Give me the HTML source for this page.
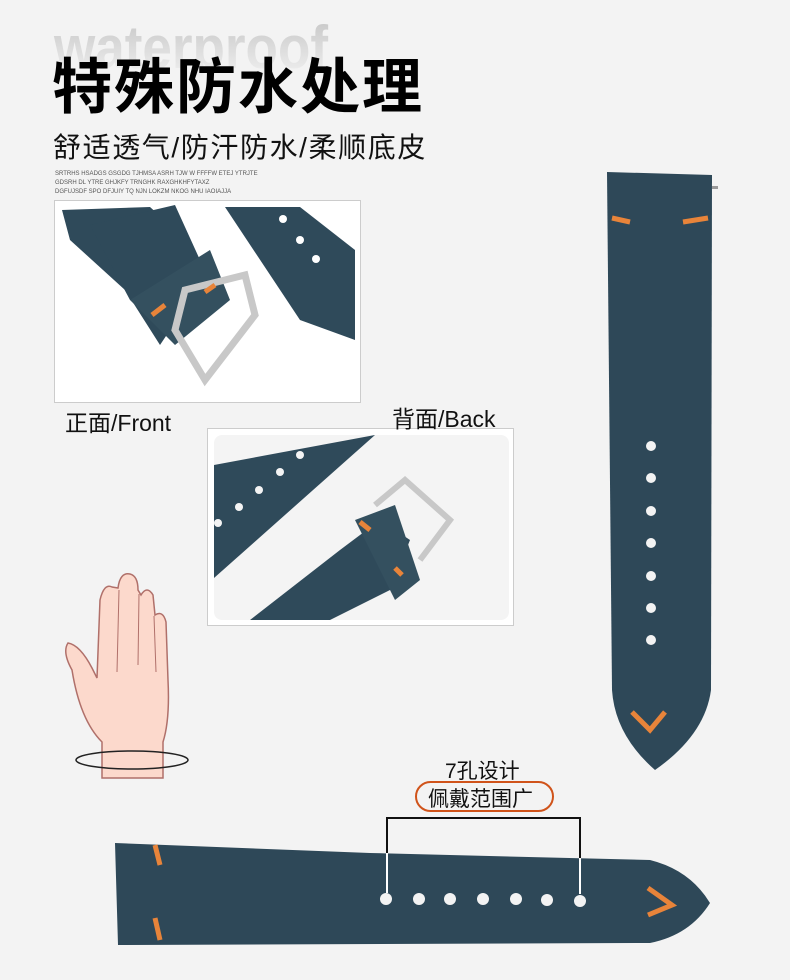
<!DOCTYPE html>
<html><head><meta charset="utf-8"><style>
body{margin:0;width:790px;height:980px;background:#f3f3f3;overflow:hidden;position:relative;font-family:"Liberation Sans","Noto Sans CJK SC",sans-serif}
.a{position:absolute;white-space:nowrap}
</style></head><body>
<svg width="790" height="980" style="position:absolute;left:0;top:0">
<defs>
<linearGradient id="wg" x1="0" y1="0" x2="0" y2="1"><stop offset="0" stop-color="#c4c4c4"/><stop offset="1" stop-color="#f3f3f3"/></linearGradient>
</defs>
<text x="54" y="68" font-family="Liberation Sans" font-weight="bold" font-size="60" fill="url(#wg)" textLength="274" lengthAdjust="spacingAndGlyphs">waterproof</text>
<!-- front photo -->
<rect x="54.5" y="200.5" width="306" height="202" fill="#fff" stroke="#ccc"/>
<path d="M62 210 L150 207 L178 232 L150 250 L135 300 L170 330 L160 345 L125 290 L70 240Z" fill="#2f4a5a"/>
<path d="M90 225 L175 205 L200 260 L155 300 L130 300Z" fill="#2f4a5a"/>
<path d="M130 300 L210 250 L230 300 L175 345Z" fill="#34505f"/>
<path d="M185 290 L245 275 L255 315 L205 380 L175 330Z" fill="none" stroke="#c8c8c8" stroke-width="7"/>
<path d="M225 207 L300 207 L355 250 L355 340 L300 320 Z" fill="#2f4a5a"/>
<circle cx="283" cy="219" r="4" fill="#fff"/><circle cx="300" cy="240" r="4" fill="#fff"/><circle cx="316" cy="259" r="4" fill="#fff"/>
<path d="M152 315 L165 305 M205 292 L215 285" stroke="#e8843a" stroke-width="5"/>
<!-- back photo -->
<rect x="207.5" y="428.5" width="306" height="197" fill="#fff" stroke="#ccc"/>
<rect x="214" y="435" width="295" height="185" rx="8" fill="#f4f4f4"/>
<path d="M214 465 L375 435 L214 578Z" fill="#2f4a5a"/>
<path d="M250 620 L340 550 L380 520 L410 540 L390 590 L330 620Z" fill="#2f4a5a"/>
<path d="M355 520 L395 505 L420 580 L395 600Z" fill="#34505f"/>
<path d="M375 505 L405 480 L450 520 L420 560" fill="none" stroke="#c8c8c8" stroke-width="6"/>
<g fill="#f4f4f4"><circle cx="218" cy="523" r="4"/><circle cx="239" cy="507" r="4"/><circle cx="259" cy="490" r="4"/><circle cx="280" cy="472" r="4"/><circle cx="300" cy="455" r="4"/><circle cx="320" cy="440" r="4"/></g>
<path d="M360 522 L370 530 M395 568 L402 575" stroke="#e8843a" stroke-width="5"/>
<!-- vertical strap -->
<path d="M607 172 L712 175 L711 690 Q705 735 655 770 Q615 735 612 690 Z" fill="#2e4858"/>
<path d="M612 218 L630 222 M683 222 L708 218 M632 712 L650 730 L665 712" stroke="#e8843a" stroke-width="5" fill="none"/>
<g fill="#f3f3f3"><circle cx="651" cy="446" r="5"/><circle cx="651" cy="478" r="5"/><circle cx="651" cy="511" r="5"/><circle cx="651" cy="543" r="5"/><circle cx="651" cy="576" r="5"/><circle cx="651" cy="608" r="5"/><circle cx="651" cy="640" r="5"/></g>
<rect x="712" y="186" width="6" height="3" fill="#999"/>
<!-- horizontal strap -->
<path d="M115 843 L370 853 L650 860 Q690 870 710 903 Q690 935 650 943 L118 945 Z" fill="#2e4858"/>
<path d="M155 845 L160 865 M155 918 L160 940 M648 888 L672 905 L648 915" stroke="#e8843a" stroke-width="5" fill="none"/>
<g fill="#f3f3f3"><circle cx="386" cy="899" r="6"/><circle cx="419" cy="899" r="6"/><circle cx="450" cy="899" r="6"/><circle cx="483" cy="899" r="6"/><circle cx="516" cy="899" r="6"/><circle cx="547" cy="900" r="6"/><circle cx="580" cy="901" r="6"/></g>
<path d="M387 853 L387 818 L580 818 L580 858" stroke="#111" stroke-width="2" fill="none"/>
<path d="M387 853 L387 893 M580 858 L580 894" stroke="#fff" stroke-width="2"/>
<rect x="416" y="782" width="137" height="29" rx="14.5" fill="none" stroke="#d0531a" stroke-width="2"/>
<!-- hand -->
<path d="M102 778 L102 742 Q80 720 72 670 Q62 652 68 643 Q80 645 92 668 L97 678 L100 600 Q104 583 112 587 L118 588 Q120 572 130 574 Q138 576 138 590 L141 595 Q147 585 153 595 L155 615 Q163 610 166 622 L168 680 Q170 720 163 742 L163 778 Z" fill="#fcd9cc" stroke="#b0706a" stroke-width="1.5"/>
<path d="M119 590 L117 672 M139 594 L138 665 M154 616 L156 672" stroke="#b0706a" stroke-width="1" fill="none"/>
<ellipse cx="132" cy="760" rx="56" ry="9" fill="none" stroke="#222" stroke-width="1.5"/>
</svg>
<div class="a" style="left:52px;top:48px;font-size:60px;font-weight:bold;color:#000;letter-spacing:2px;line-height:80px">特殊防水处理</div>
<div class="a" style="left:53px;top:126px;font-size:28px;color:#111;letter-spacing:1.6px">舒适透气/防汗防水/柔顺底皮</div>
<div class="a" style="left:55px;top:170px;font-size:6px;line-height:9px;color:#555">SRTRHS HSADGS GSGDG TJHMSA ASRH TJW W FFFFW ETEJ YTRJTE<br>GDSRH DL YTRE GHJKFY TRNGHK RAXGHKHFYTAXZ<br>DGFUJSDF SPO DFJUIY TQ NJN LOKZM NKOG NHU IAOIAJJA</div>
<div class="a" style="left:65px;top:404px;font-size:23px;color:#111">正面/Front</div>
<div class="a" style="left:392px;top:400px;font-size:23px;color:#111">背面/Back</div>
<div class="a" style="left:445px;top:755px;font-size:21px;color:#111">7孔设计</div>
<div class="a" style="left:428px;top:783px;font-size:21px;color:#111">佩戴范围广</div>
</body></html>
